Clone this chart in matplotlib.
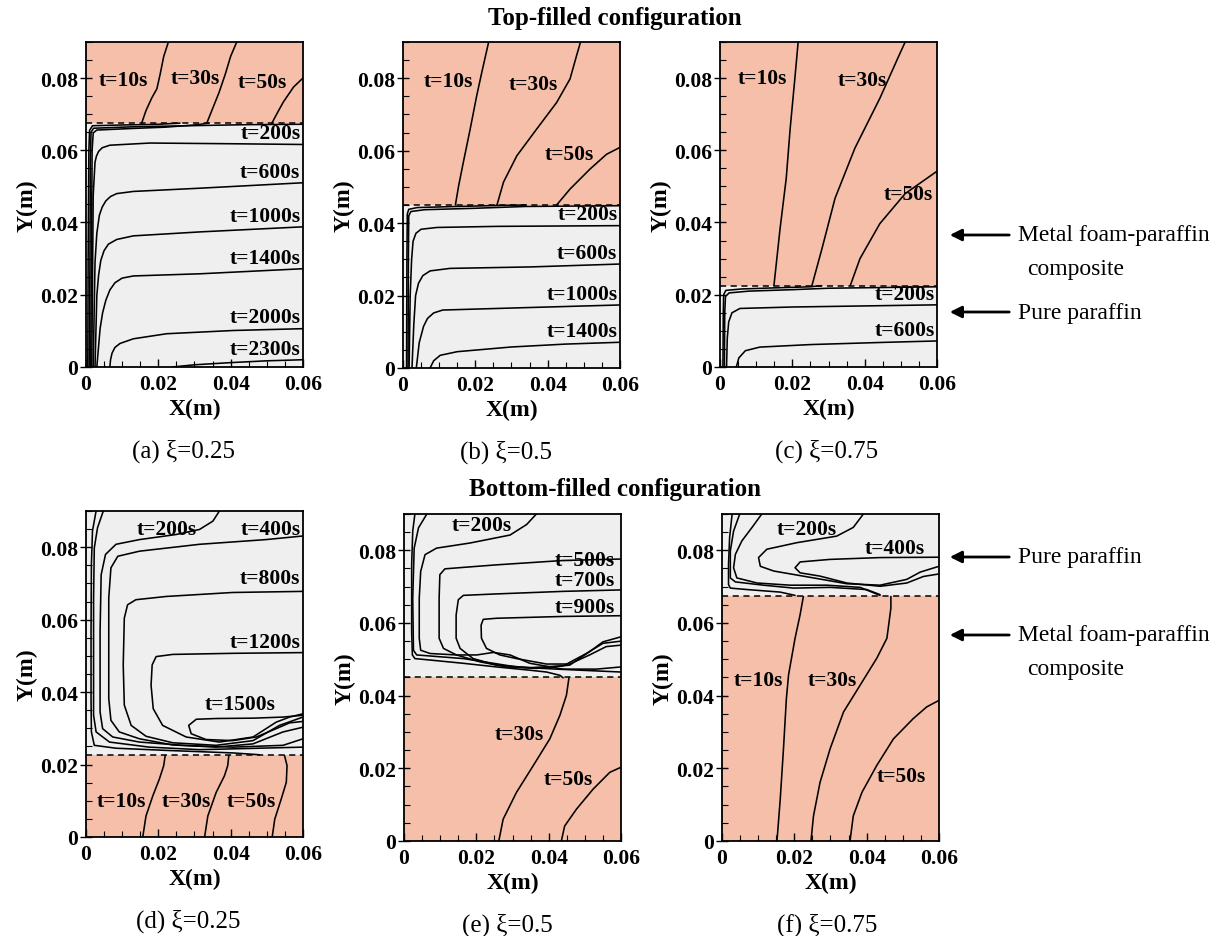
import matplotlib
matplotlib.use("Agg")
import matplotlib.pyplot as plt
from matplotlib.ticker import MultipleLocator, FixedLocator, FixedFormatter

plt.rcParams['font.family'] = ['Liberation Serif', 'DejaVu Serif']

FOAM_COLOR = '#F5BFA9'
PCM_COLOR = '#EFEFEF'

X_MAX, Y_MAX = 0.06, 0.09
x_ticks = [0, 0.02, 0.04, 0.06]
x_tick_labels = ['0', '0.02', '0.04', '0.06']
y_ticks = [0, 0.02, 0.04, 0.06, 0.08]
y_tick_labels = ['0', '0.02', '0.04', '0.06', '0.08']

# interface heights between pure paraffin and metal-foam composite
top_interfaces = [0.0675, 0.045, 0.0225]
bottom_interfaces = [0.0225, 0.045, 0.0675]
captions_top = ['(a) ξ=0.25', '(b) ξ=0.5', '(c) ξ=0.75']
captions_bottom = ['(d) ξ=0.25', '(e) ξ=0.5', '(f) ξ=0.75']

# ---------------- (a) top-filled, xi = 0.25 ----------------
a_foam_curves = [
    [(0.0154, 0.0675), (0.0166, 0.071), (0.0182, 0.0745), (0.0196, 0.077), (0.0205, 0.081), (0.0215, 0.086), (0.0228, 0.09)],
    [(0.0334, 0.0675), (0.0350, 0.0715), (0.0368, 0.0760), (0.0385, 0.0810), (0.0400, 0.0860), (0.0417, 0.09)],
    [(0.0514, 0.0675), (0.0530, 0.0705), (0.0546, 0.0734), (0.0574, 0.0775), (0.0600, 0.0800)],
]
a_foam_labels = ['t=10s', 't=30s', 't=50s']
a_foam_label_xy = [(0.0103, 0.0794), (0.0302, 0.0800), (0.0488, 0.0790)]
a_wall_curves = [
    [(0.0005, 0.0), (0.0006, 0.030), (0.0008, 0.060), (0.0010, 0.0655), (0.0018, 0.0668), (0.010, 0.0670), (0.020, 0.0672), (0.0260, 0.0675)],
    [(0.0009, 0.0), (0.0011, 0.030), (0.0012, 0.0567), (0.0014, 0.0650), (0.0021, 0.0661), (0.0131, 0.0665), (0.0288, 0.0668), (0.0450, 0.0671), (0.0600, 0.0672)],
    [(0.0013, 0.0), (0.0015, 0.030), (0.0017, 0.060), (0.0020, 0.0648), (0.0030, 0.0656), (0.0120, 0.0660), (0.0220, 0.0664), (0.0300, 0.0670), (0.0340, 0.0675)],
]
a_front_curves = [
    [(0.0016, 0.0), (0.0020, 0.0475), (0.0025, 0.0567), (0.0029, 0.0584), (0.0035, 0.0597), (0.0045, 0.0607), (0.0066, 0.0614), (0.0177, 0.0620), (0.0408, 0.0618), (0.0600, 0.0616)],
    [(0.0020, 0.0), (0.0025, 0.0290), (0.0030, 0.0370), (0.0037, 0.0420), (0.0045, 0.0443), (0.0055, 0.0460), (0.0068, 0.0472), (0.0085, 0.0480), (0.0131, 0.0486), (0.0316, 0.0495), (0.0600, 0.0510)],
    [(0.0025, 0.0), (0.0030, 0.0198), (0.0035, 0.0255), (0.0041, 0.0295), (0.0050, 0.0322), (0.0062, 0.0340), (0.0085, 0.0353), (0.0131, 0.0363), (0.0316, 0.0374), (0.0600, 0.0388)],
    [(0.0030, 0.0), (0.0039, 0.0106), (0.0046, 0.0150), (0.0055, 0.0185), (0.0066, 0.0213), (0.0080, 0.0233), (0.0100, 0.0246), (0.0131, 0.0252), (0.0316, 0.0258), (0.0600, 0.0272)],
    [(0.0066, 0.0), (0.0068, 0.0020), (0.0072, 0.0038), (0.0080, 0.0054), (0.0094, 0.0065), (0.0131, 0.0078), (0.0223, 0.0092), (0.0408, 0.0101), (0.0600, 0.0106)],
    [(0.0240, 0.0), (0.0300, 0.0006), (0.0400, 0.0012), (0.0500, 0.0017), (0.0600, 0.0020)],
]
a_front_labels = ['t=200s', 't=600s', 't=1000s', 't=1400s', 't=2000s', 't=2300s']

# ---------------- (b) top-filled, xi = 0.5 ----------------
b_foam_curves = [
    [(0.0145, 0.045), (0.0154, 0.0503), (0.0167, 0.0568), (0.0186, 0.0660), (0.0204, 0.0752), (0.0218, 0.0816), (0.0237, 0.09)],
    [(0.0260, 0.045), (0.0278, 0.0513), (0.0315, 0.0586), (0.0370, 0.0660), (0.0425, 0.0733), (0.0462, 0.0798), (0.0480, 0.0862), (0.0491, 0.09)],
    [(0.0425, 0.045), (0.0462, 0.0494), (0.0517, 0.0549), (0.0563, 0.0590), (0.0600, 0.0609)],
]
b_foam_labels = ['t=10s', 't=30s', 't=50s']
b_foam_label_xy = [(0.0126, 0.0793), (0.0361, 0.0784), (0.0460, 0.0591)]
b_wall_curves = [
    [(0.0010, 0.0), (0.0011, 0.030), (0.0012, 0.0425), (0.0016, 0.0438), (0.0040, 0.0443), (0.0150, 0.0446), (0.0280, 0.0449), (0.0340, 0.045)],
    [(0.0014, 0.0), (0.0015, 0.030), (0.0016, 0.0420), (0.0022, 0.0432), (0.0060, 0.0437), (0.0200, 0.0441), (0.0340, 0.0446), (0.0600, 0.0448)],
]
b_front_curves = [
    [(0.0017, 0.0), (0.0020, 0.020), (0.0024, 0.030), (0.0028, 0.0350), (0.0036, 0.0372), (0.0050, 0.0383), (0.0094, 0.0388), (0.0260, 0.0391), (0.0600, 0.0393)],
    [(0.0025, 0.0), (0.0030, 0.012), (0.0035, 0.020), (0.0043, 0.0234), (0.0055, 0.0255), (0.0075, 0.0268), (0.0130, 0.0275), (0.0352, 0.0279), (0.0600, 0.0287)],
    [(0.0037, 0.0), (0.0045, 0.0070), (0.0057, 0.0115), (0.0068, 0.0137), (0.0085, 0.0152), (0.0110, 0.0160), (0.0352, 0.0167), (0.0600, 0.0174)],
    [(0.0075, 0.0), (0.0085, 0.0020), (0.0103, 0.0035), (0.0150, 0.0045), (0.0300, 0.0058), (0.0450, 0.0066), (0.0600, 0.0071)],
]
b_front_labels = ['t=200s', 't=600s', 't=1000s', 't=1400s']

# ---------------- (c) top-filled, xi = 0.75 ----------------
c_foam_curves = [
    [(0.0149, 0.0225), (0.0166, 0.0383), (0.0183, 0.0522), (0.0194, 0.0661), (0.0207, 0.0800), (0.0216, 0.09)],
    [(0.0254, 0.0225), (0.0282, 0.0328), (0.0318, 0.0467), (0.0373, 0.0606), (0.0442, 0.0744), (0.0492, 0.0856), (0.0512, 0.09)],
    [(0.0360, 0.0225), (0.0387, 0.0300), (0.0442, 0.0397), (0.0512, 0.0480), (0.0600, 0.0542)],
]
c_foam_labels = ['t=10s', 't=30s', 't=50s']
c_foam_label_xy = [(0.0116, 0.0800), (0.0393, 0.0794), (0.0520, 0.0478)]
c_wall_curves = [
    [(0.0008, 0.0), (0.0009, 0.015), (0.0010, 0.0200), (0.0016, 0.0212), (0.0060, 0.0216), (0.0150, 0.0219), (0.0250, 0.0222), (0.0280, 0.0225)],
    [(0.0012, 0.0), (0.0013, 0.015), (0.0015, 0.0195), (0.0025, 0.0205), (0.0080, 0.0210), (0.0200, 0.0214), (0.0300, 0.0218), (0.0600, 0.0222)],
]
c_front_curves = [
    [(0.0018, 0.0), (0.0020, 0.008), (0.0024, 0.0125), (0.0033, 0.0150), (0.0055, 0.0162), (0.0200, 0.0166), (0.0600, 0.0172)],
    [(0.0045, 0.0), (0.0052, 0.0025), (0.0070, 0.0045), (0.0110, 0.0055), (0.0250, 0.0062), (0.0450, 0.0068), (0.0600, 0.0072)],
]
c_front_labels = ['t=200s', 't=600s']

# ---------------- (d) bottom-filled, xi = 0.25 ----------------
d_foam_curves = [
    [(0.0157, 0.0), (0.0166, 0.0058), (0.0185, 0.0114), (0.0203, 0.0160), (0.0215, 0.0197), (0.0219, 0.0225)],
    [(0.0328, 0.0), (0.0337, 0.0058), (0.0360, 0.0123), (0.0383, 0.0169), (0.0392, 0.0197), (0.0395, 0.0225)],
    [(0.0515, 0.0), (0.0522, 0.0049), (0.0540, 0.0105), (0.0554, 0.0151), (0.0556, 0.0197), (0.0549, 0.0225)],
]
d_foam_labels = ['t=10s', 't=30s', 't=50s']
d_foam_label_xy = [(0.0097, 0.0100), (0.0277, 0.0100), (0.0457, 0.0100)]
d_pcm_curves = [
    [(0.0028, 0.09), (0.0018, 0.0845), (0.0015, 0.0752), (0.0014, 0.0567), (0.0014, 0.0382), (0.0015, 0.0290), (0.0023, 0.0253), (0.0083, 0.0245), (0.0222, 0.0239), (0.0406, 0.0232), (0.0480, 0.0227)],
    [(0.0048, 0.09), (0.0032, 0.0854), (0.0023, 0.0798), (0.0021, 0.0660), (0.0021, 0.0336), (0.0028, 0.0290), (0.0065, 0.0262), (0.0175, 0.0248), (0.0314, 0.0241), (0.0600, 0.0248)],
    [(0.0369, 0.09), (0.0351, 0.0872), (0.0314, 0.0849), (0.0249, 0.0835), (0.0148, 0.0821), (0.0083, 0.0808), (0.0054, 0.0780), (0.0042, 0.0724), (0.0039, 0.0567), (0.0039, 0.0345), (0.0046, 0.0299), (0.0074, 0.0276), (0.0148, 0.0262), (0.0268, 0.0253), (0.0406, 0.0248), (0.0545, 0.0253), (0.0600, 0.0271)],
    [(0.0600, 0.0831), (0.0498, 0.0821), (0.0314, 0.0808), (0.0148, 0.0789), (0.0088, 0.0775), (0.0069, 0.0743), (0.0063, 0.0660), (0.0063, 0.0382), (0.0069, 0.0322), (0.0092, 0.0290), (0.0148, 0.0271), (0.0240, 0.0254), (0.0360, 0.0248), (0.0462, 0.0257), (0.0545, 0.0290), (0.0600, 0.0303)],
    [(0.0600, 0.0678), (0.0406, 0.0675), (0.0222, 0.0664), (0.0138, 0.0655), (0.0115, 0.0641), (0.0106, 0.0604), (0.0103, 0.0475), (0.0106, 0.0364), (0.0125, 0.0308), (0.0166, 0.0278), (0.0240, 0.0260), (0.0360, 0.0253), (0.0462, 0.0266), (0.0535, 0.0308), (0.0600, 0.0331)],
    [(0.0600, 0.0509), (0.0406, 0.0507), (0.0240, 0.0504), (0.0194, 0.0498), (0.0183, 0.0475), (0.0180, 0.0419), (0.0186, 0.0354), (0.0212, 0.0308), (0.0277, 0.0276), (0.0369, 0.0262), (0.0462, 0.0276), (0.0526, 0.0317), (0.0563, 0.0331), (0.0600, 0.0340)],
    [(0.0600, 0.0336), (0.0545, 0.0331), (0.0462, 0.0328), (0.0360, 0.0327), (0.0305, 0.0325), (0.0284, 0.0308), (0.0291, 0.0285), (0.0332, 0.0269), (0.0406, 0.0266), (0.0471, 0.0276), (0.0526, 0.0299), (0.0563, 0.0315), (0.0600, 0.0319)],
]
d_pcm_labels = ['t=200s', 't=400s', 't=800s', 't=1200s', 't=1500s']
d_pcm_label_xy = [(0.0222, 0.0849), (0.0593, 0.0849), (0.0593, 0.0715), (0.0593, 0.0539), (0.0425, 0.0368)]
d_pcm_label_ha = ['center', 'right', 'right', 'right', 'center']

# ---------------- (e) bottom-filled, xi = 0.5 ----------------
e_foam_curves = [
    [(0.0262, 0.0), (0.0274, 0.0060), (0.0311, 0.0134), (0.0357, 0.0207), (0.0403, 0.0281), (0.0431, 0.0346), (0.0449, 0.0401), (0.0456, 0.0449)],
    [(0.0435, 0.0), (0.0444, 0.0041), (0.0477, 0.0088), (0.0523, 0.0143), (0.0569, 0.0189), (0.0600, 0.0203)],
]
e_foam_labels = ['t=30s', 't=50s']
e_foam_label_xy = [(0.0320, 0.0295), (0.0454, 0.0170)]
e_pcm_curves = [
    [(0.0030, 0.09), (0.0024, 0.0853), (0.0021, 0.0760), (0.0021, 0.0576), (0.0023, 0.0512), (0.0030, 0.0502), (0.0072, 0.0498), (0.0164, 0.0489), (0.0256, 0.0479), (0.0348, 0.0470), (0.0394, 0.0465), (0.0431, 0.0456), (0.0440, 0.0449)],
    [(0.0063, 0.09), (0.0040, 0.0862), (0.0028, 0.0806), (0.0024, 0.0668), (0.0026, 0.0525), (0.0035, 0.0512), (0.0164, 0.0502), (0.0311, 0.0479), (0.0421, 0.0473), (0.0600, 0.0465)],
    [(0.0366, 0.09), (0.0339, 0.0871), (0.0293, 0.0842), (0.0182, 0.0820), (0.0090, 0.0806), (0.0058, 0.0788), (0.0046, 0.0742), (0.0042, 0.0668), (0.0042, 0.0558), (0.0046, 0.0525), (0.0072, 0.0516), (0.0145, 0.0512), (0.0201, 0.0512), (0.0247, 0.0519), (0.0293, 0.0512), (0.0348, 0.0489), (0.0440, 0.0473), (0.0532, 0.0473), (0.0600, 0.0479)],
    [(0.0600, 0.0776), (0.0440, 0.0772), (0.0256, 0.0760), (0.0164, 0.0753), (0.0113, 0.0749), (0.0099, 0.0733), (0.0097, 0.0668), (0.0097, 0.0558), (0.0109, 0.0530), (0.0145, 0.0512), (0.0210, 0.0493), (0.0283, 0.0479), (0.0366, 0.0475), (0.0458, 0.0484), (0.0513, 0.0521), (0.0550, 0.0548), (0.0600, 0.0562)],
    [(0.0600, 0.0691), (0.0440, 0.0687), (0.0256, 0.0680), (0.0164, 0.0676), (0.0150, 0.0664), (0.0144, 0.0622), (0.0144, 0.0558), (0.0155, 0.0530), (0.0191, 0.0502), (0.0256, 0.0484), (0.0348, 0.0477), (0.0440, 0.0482), (0.0504, 0.0516), (0.0550, 0.0544), (0.0600, 0.0550)],
    [(0.0600, 0.0620), (0.0440, 0.0618), (0.0256, 0.0613), (0.0219, 0.0610), (0.0213, 0.0594), (0.0214, 0.0558), (0.0228, 0.0530), (0.0265, 0.0512), (0.0311, 0.0502), (0.0394, 0.0487), (0.0458, 0.0487), (0.0513, 0.0512), (0.0559, 0.0535), (0.0600, 0.0539)],
]
e_pcm_labels = ['t=200s', 't=500s', 't=700s', 't=900s']
e_pcm_label_xy = [(0.0214, 0.0871), (0.0582, 0.0774), (0.0582, 0.0719), (0.0582, 0.0645)]
e_pcm_label_ha = ['center', 'right', 'right', 'right']

# ---------------- (f) bottom-filled, xi = 0.75 ----------------
f_foam_curves = [
    [(0.0152, 0.0), (0.0161, 0.0115), (0.0170, 0.0254), (0.0178, 0.0392), (0.0184, 0.0457), (0.0202, 0.0558), (0.0216, 0.0623), (0.0225, 0.0673)],
    [(0.0246, 0.0), (0.0253, 0.0069), (0.0271, 0.0161), (0.0299, 0.0254), (0.0336, 0.0355), (0.0382, 0.0429), (0.0428, 0.0503), (0.0456, 0.0558), (0.0467, 0.0641), (0.0467, 0.0673)],
    [(0.0354, 0.0), (0.0363, 0.0069), (0.0387, 0.0134), (0.0428, 0.0208), (0.0474, 0.0281), (0.0529, 0.0337), (0.0566, 0.0369), (0.0600, 0.0387)],
]
f_foam_labels = ['t=10s', 't=30s', 't=50s']
f_foam_label_xy = [(0.0101, 0.0443), (0.0304, 0.0443), (0.0497, 0.0180)]
f_pcm_curves = [
    [(0.0028, 0.09), (0.0021, 0.0835), (0.0018, 0.0761), (0.0018, 0.0706), (0.0023, 0.0696), (0.0069, 0.0692), (0.0161, 0.0685), (0.0202, 0.0676)],
    [(0.0049, 0.09), (0.0032, 0.0853), (0.0023, 0.0798), (0.0023, 0.0724), (0.0037, 0.0713), (0.0115, 0.0704), (0.0198, 0.0696), (0.0299, 0.0698), (0.0400, 0.0692), (0.0437, 0.0678)],
    [(0.0110, 0.09), (0.0083, 0.0863), (0.0055, 0.0826), (0.0037, 0.0789), (0.0032, 0.0752), (0.0041, 0.0724), (0.0097, 0.0710), (0.0189, 0.0704), (0.0290, 0.0704), (0.0382, 0.0698), (0.0437, 0.0676)],
    [(0.0391, 0.09), (0.0363, 0.0863), (0.0317, 0.0839), (0.0207, 0.0821), (0.0124, 0.0803), (0.0101, 0.0780), (0.0106, 0.0756), (0.0143, 0.0743), (0.0253, 0.0724), (0.0345, 0.0708), (0.0437, 0.0704), (0.0511, 0.0720), (0.0548, 0.0740), (0.0600, 0.0756)],
    [(0.0600, 0.0781), (0.0437, 0.0780), (0.0299, 0.0775), (0.0216, 0.0768), (0.0202, 0.0752), (0.0216, 0.0738), (0.0271, 0.0729), (0.0345, 0.0710), (0.0437, 0.0701), (0.0511, 0.0710), (0.0557, 0.0728), (0.0600, 0.0735)],
]
f_pcm_labels = ['t=200s', 't=400s']
f_pcm_label_xy = [(0.0235, 0.0858), (0.0478, 0.0805)]
f_pcm_label_ha = ['center', 'center']

# ---------------- figure ----------------
fig = plt.figure(figsize=(12.3, 9.37), dpi=100)

LABEL_KW = dict(fontsize=15.5, fontweight='bold', color='black')


def make_axes(rect, interface, foam_on_top, caption, caption_x):
    ax = fig.add_axes(rect)
    ax.set_xlim(0, X_MAX)
    ax.set_ylim(0, Y_MAX)
    if foam_on_top:
        ax.axhspan(interface, Y_MAX, color=FOAM_COLOR, lw=0, zorder=0)
        ax.axhspan(0, interface, color=PCM_COLOR, lw=0, zorder=0)
    else:
        ax.axhspan(0, interface, color=FOAM_COLOR, lw=0, zorder=0)
        ax.axhspan(interface, Y_MAX, color=PCM_COLOR, lw=0, zorder=0)
    ax.axhline(interface, color='black', lw=1.1, ls=(0, (4, 3)), zorder=3)
    ax.xaxis.set_major_locator(FixedLocator(x_ticks))
    ax.xaxis.set_major_formatter(FixedFormatter(x_tick_labels))
    ax.yaxis.set_major_locator(FixedLocator(y_ticks))
    ax.yaxis.set_major_formatter(FixedFormatter(y_tick_labels))
    ax.xaxis.set_minor_locator(MultipleLocator(0.005))
    ax.yaxis.set_minor_locator(MultipleLocator(0.005))
    ax.tick_params(axis='x', which='major', direction='in', length=6, width=1, pad=5)
    ax.tick_params(axis='x', which='minor', direction='in', length=4, width=0.8)
    ax.tick_params(axis='y', which='major', direction='inout', length=9, width=1, pad=1)
    ax.tick_params(axis='y', which='minor', direction='in', length=4, width=0.8)
    for lab in ax.get_xticklabels() + ax.get_yticklabels():
        lab.set_fontsize(15.5)
        lab.set_fontweight('bold')
    for sp in ax.spines.values():
        sp.set_linewidth(1.3)
    ax.set_xlabel('X(m)', fontsize=17, fontweight='bold', labelpad=3)
    ax.set_ylabel('Y(m)', fontsize=17, fontweight='bold', labelpad=2)
    ax.text(caption_x, -0.255, caption, transform=ax.transAxes, ha='center', va='center', fontsize=18)
    return ax


def draw_curves(ax, curves):
    for c in curves:
        xs = [p[0] for p in c]
        ys = [p[1] for p in c]
        ax.plot(xs, ys, color='black', lw=1.15, solid_joinstyle='round', solid_capstyle='round', zorder=2)


def draw_labels(ax, texts, xys, has=None):
    for i, (s, (x, y)) in enumerate(zip(texts, xys)):
        ha = has[i] if has else 'center'
        ax.text(x, y, s, ha=ha, va='center', zorder=4, **LABEL_KW)


def draw_front_labels(ax, curves, texts):
    # each melting-front label sits just above the right end of its curve
    for c, s in zip(curves, texts):
        ax.text(0.0593, c[-1][1] + 0.0031, s, ha='right', va='center', zorder=4, **LABEL_KW)


rects_top = [[0.0699, 0.6073, 0.1764, 0.3469], [0.3276, 0.6062, 0.1764, 0.3479], [0.5854, 0.6073, 0.1764, 0.3469]]
rects_bottom = [[0.0699, 0.1057, 0.1764, 0.3479], [0.3285, 0.1014, 0.1764, 0.3490], [0.5870, 0.1014, 0.1764, 0.3490]]
caption_x_top = [0.45, 0.475, 0.49]
caption_x_bottom = [0.47, 0.475, 0.484]

# top row
top_sets = [
    (a_foam_curves, a_foam_labels, a_foam_label_xy, a_wall_curves, a_front_curves, a_front_labels),
    (b_foam_curves, b_foam_labels, b_foam_label_xy, b_wall_curves, b_front_curves, b_front_labels),
    (c_foam_curves, c_foam_labels, c_foam_label_xy, c_wall_curves, c_front_curves, c_front_labels),
]
for rect, yi, cap, cx, (fc, fl, fxy, wc, mc, ml) in zip(rects_top, top_interfaces, captions_top, caption_x_top, top_sets):
    ax = make_axes(rect, yi, True, cap, cx)
    draw_curves(ax, fc)
    draw_curves(ax, wc)
    draw_curves(ax, mc)
    draw_labels(ax, fl, fxy)
    draw_front_labels(ax, mc, ml)

# bottom row
bottom_sets = [
    (d_foam_curves, d_foam_labels, d_foam_label_xy, d_pcm_curves, d_pcm_labels, d_pcm_label_xy, d_pcm_label_ha),
    (e_foam_curves, e_foam_labels, e_foam_label_xy, e_pcm_curves, e_pcm_labels, e_pcm_label_xy, e_pcm_label_ha),
    (f_foam_curves, f_foam_labels, f_foam_label_xy, f_pcm_curves, f_pcm_labels, f_pcm_label_xy, f_pcm_label_ha),
]
for rect, yi, cap, cx, (fc, fl, fxy, pc, pl, pxy, pha) in zip(rects_bottom, bottom_interfaces, captions_bottom, caption_x_bottom, bottom_sets):
    ax = make_axes(rect, yi, False, cap, cx)
    draw_curves(ax, fc)
    draw_curves(ax, pc)
    draw_labels(ax, fl, fxy)
    draw_labels(ax, pl, pxy, pha)

# row titles
fig.text(0.5, 1 - 18 / 937, 'Top-filled configuration', ha='center', va='center', fontsize=18, fontweight='bold')
fig.text(0.5, 1 - 490 / 937, 'Bottom-filled configuration', ha='center', va='center', fontsize=18, fontweight='bold')


# region annotations on the right
def side_note(y_px, lines):
    y = 1 - y_px / 937
    fig.add_artist(matplotlib.patches.FancyArrowPatch(
        (1012 / 1230, y), (947 / 1230, y), transform=fig.transFigure,
        arrowstyle='-|>,head_length=7,head_width=3.5', color='black', lw=2.0, mutation_scale=1))
    fig.text(1018 / 1230, y, lines[0], ha='left', va='center', fontsize=17)
    if len(lines) > 1:
        fig.text(1027 / 1230, y - 34 / 937, lines[1], ha='left', va='center', fontsize=17)


side_note(236, ['Metal foam-paraffin', 'composite'])
side_note(313, ['Pure paraffin'])
side_note(558, ['Pure paraffin'])
side_note(636, ['Metal foam-paraffin', 'composite'])

fig.savefig('out.png', dpi=100)
